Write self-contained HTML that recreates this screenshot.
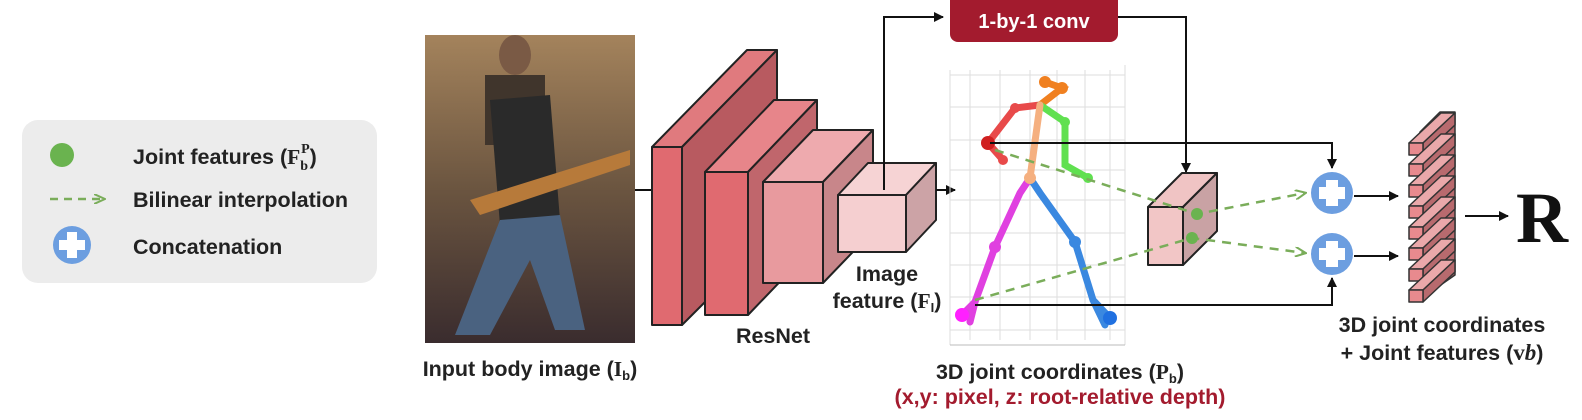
<!DOCTYPE html>
<html><head><meta charset="utf-8"><style>
body{margin:0;background:#fff;}
svg{display:block;font-family:"Liberation Sans",sans-serif;}
.t{font-size:21.5px;font-weight:bold;fill:#222;}
</style></head><body>
<svg width="1582" height="420" viewBox="0 0 1582 420">
<defs>
<marker id="a" markerWidth="10" markerHeight="10" refX="9" refY="5" orient="auto" markerUnits="userSpaceOnUse"><path d="M0,0 L10,5 L0,10 z" fill="#111"/></marker>
<marker id="g" markerWidth="12" markerHeight="10" refX="10" refY="5" orient="auto" markerUnits="userSpaceOnUse"><path d="M0,0 L11,5 L0,10" fill="none" stroke="#7aad5a" stroke-width="2"/></marker>
</defs>
<!-- legend -->
<rect x="22" y="120" width="355" height="163" rx="16" fill="#ececec"/>
<circle cx="62" cy="155" r="12" fill="#6ab34f"/>
<line x1="50" y1="199" x2="104" y2="199" stroke="#7aad5a" stroke-width="2.5" stroke-dasharray="8,6" marker-end="url(#g)"/>
<circle cx="72" cy="245" r="19" fill="#6c9ee0"/>
<rect x="67" y="232" width="10" height="26" fill="#fff"/><rect x="59" y="240" width="26" height="10" fill="#fff"/>
<text class="t" x="133" y="164">Joint features (<tspan font-family="Liberation Serif">F</tspan><tspan font-family="Liberation Serif" font-size="14" dy="6">b</tspan><tspan font-family="Liberation Serif" font-size="14" dy="-17" dx="-7">P</tspan><tspan dy="11">)</tspan></text>
<text class="t" x="133" y="207">Bilinear interpolation</text>
<text class="t" x="133" y="254">Concatenation</text>
<!-- photo -->
<defs><linearGradient id="ph" x1="0" y1="0" x2="0" y2="1"><stop offset="0" stop-color="#a4835c"/><stop offset="0.5" stop-color="#6b5540"/><stop offset="1" stop-color="#3a2c2e"/></linearGradient></defs>
<rect x="425" y="35" width="210" height="308" fill="url(#ph)"/>
<rect x="485" y="75" width="60" height="70" fill="#40352c"/>
<ellipse cx="515" cy="55" rx="16" ry="20" fill="#7a5a45"/>
<path d="M490,100 L550,95 L560,220 L500,225z" fill="#2a2a2a"/>
<path d="M500,220 L560,215 L585,330 L555,330 L530,260 L490,335 L455,335z" fill="#4a6280"/>
<path d="M470,200 L630,150 L630,165 L480,215z" fill="#b77a3a"/>
<line x1="635" y1="190" x2="652" y2="190" stroke="#111" stroke-width="2"/>
<!-- ResNet blocks -->
<g stroke="#222" stroke-width="2" stroke-linejoin="round">
<path d="M652,147 L747,50 L777,50 L682,147z" fill="#e07a7e"/><path d="M682,147 L777,50 L777,230 L682,325z" fill="#b85a60"/><rect x="652" y="147" width="30" height="178" fill="#e06a70"/>
<path d="M705,172 L774,100 L817,100 L748,172z" fill="#e7858a"/><path d="M748,172 L817,100 L817,243 L748,315z" fill="#c0666c"/><rect x="705" y="172" width="43" height="143" fill="#e06a70"/>
<path d="M763,182 L813,130 L873,130 L823,182z" fill="#eeaaae"/><path d="M823,182 L873,130 L873,231 L823,283z" fill="#c8868a"/><rect x="763" y="182" width="60" height="101" fill="#e89a9e"/>
<path d="M838,195 L868,163 L936,163 L906,195z" fill="#f6d3d4"/><path d="M906,195 L936,163 L936,220 L906,252z" fill="#cca3a6"/><rect x="838" y="195" width="68" height="57" fill="#f5cfd0"/>
</g>
<text class="t" x="773" y="343" text-anchor="middle">ResNet</text>
<text class="t" x="887" y="281" text-anchor="middle">Image</text>
<text class="t" x="887" y="308" text-anchor="middle">feature (<tspan font-family="Liberation Serif">F</tspan><tspan font-size="13" dy="4">I</tspan><tspan dy="-4">)</tspan></text>
<text class="t" x="530" y="376" text-anchor="middle">Input body image (<tspan font-family="Liberation Serif">I</tspan><tspan font-size="13" dy="4">b</tspan><tspan dy="-4">)</tspan></text>
<!-- arrows from image feature -->
<polyline points="884,190 884,17 943,17" fill="none" stroke="#111" stroke-width="2" marker-end="url(#a)"/>
<line x1="936" y1="190" x2="955" y2="190" stroke="#111" stroke-width="2" marker-end="url(#a)"/>
<!-- conv box -->
<path d="M950,0 H1118 V34 a8,8 0 0 1 -8,8 H958 a8,8 0 0 1 -8,-8z" fill="#a31b2e"/>
<text x="1034" y="28" text-anchor="middle" fill="#fff" font-size="20" font-weight="bold">1-by-1 conv</text>
<polyline points="1118,17 1186,17 1186,172" fill="none" stroke="#111" stroke-width="2" marker-end="url(#a)"/>
<!-- plot grid -->
<g stroke="#ddd" stroke-width="1">
<line x1="950" y1="70" x2="950" y2="345"/><line x1="970" y1="70" x2="970" y2="340"/><line x1="1000" y1="70" x2="1000" y2="340"/><line x1="1030" y1="70" x2="1030" y2="340"/><line x1="1057" y1="70" x2="1057" y2="340"/><line x1="1085" y1="70" x2="1085" y2="340"/><line x1="1110" y1="70" x2="1110" y2="340"/><line x1="1125" y1="65" x2="1125" y2="345"/>
<line x1="950" y1="75" x2="1125" y2="75"/><line x1="950" y1="107" x2="1125" y2="107"/><line x1="950" y1="140" x2="1125" y2="140"/><line x1="950" y1="170" x2="1125" y2="170"/><line x1="950" y1="200" x2="1125" y2="200"/><line x1="950" y1="233" x2="1125" y2="233"/><line x1="950" y1="265" x2="1125" y2="265"/><line x1="950" y1="297" x2="1125" y2="297"/><line x1="950" y1="330" x2="1125" y2="330"/>
<line x1="950" y1="345" x2="1125" y2="345" stroke="#bbb"/>
</g>
<!-- skeleton -->
<g stroke-width="7" stroke-linecap="round" fill="none">
<path d="M1045,82 L1062,88 L1040,105" stroke="#f08020"/>
<path d="M1040,105 L1015,108 L988,143 L1003,160" stroke="#e84a4a"/>
<path d="M1040,105 L1065,122 L1065,165 L1088,178" stroke="#60e050"/>
<path d="M1040,105 L1030,178" stroke="#f5b080"/>
<path d="M1030,178 L1020,193 L995,247 L975,302 L962,315 M975,302 L970,322" stroke="#e040e0"/>
<path d="M1030,178 L1040,193 L1075,242 L1093,300 L1110,318 M1093,300 L1105,325" stroke="#3a88e0"/>
</g>
<g><circle cx="1045" cy="82" r="6" fill="#f08020"/><circle cx="1062" cy="88" r="6" fill="#f08020"/><circle cx="1015" cy="108" r="5" fill="#e84a4a"/><circle cx="988" cy="143" r="7" fill="#d02020"/><circle cx="1003" cy="160" r="5" fill="#e84a4a"/><circle cx="1065" cy="122" r="5" fill="#60e050"/><circle cx="1088" cy="178" r="5" fill="#60e050"/><circle cx="1030" cy="178" r="6" fill="#f5b080"/><circle cx="995" cy="247" r="6" fill="#e040e0"/><circle cx="962" cy="315" r="7" fill="#ff20ff"/><circle cx="1075" cy="242" r="6" fill="#3a88e0"/><circle cx="1110" cy="318" r="7" fill="#2070e0"/></g>
<text class="t" x="1060" y="379" text-anchor="middle">3D joint coordinates (<tspan font-family="Liberation Serif">P</tspan><tspan font-size="13" dy="4">b</tspan><tspan dy="-4">)</tspan></text>
<text class="t" x="1060" y="404" text-anchor="middle" style="fill:#a31b2e">(x,y: pixel, z: root-relative depth)</text>
<!-- lines to plus -->
<polyline points="990,143 1332,143 1332,168" fill="none" stroke="#111" stroke-width="2" marker-end="url(#a)"/>
<polyline points="975,305 1332,305 1332,278" fill="none" stroke="#111" stroke-width="2" marker-end="url(#a)"/>
<!-- small cube -->
<g stroke="#222" stroke-width="2" stroke-linejoin="round">
<path d="M1148,207 L1182,173 L1217,173 L1183,207z" fill="#f0c4c4"/><path d="M1183,207 L1217,173 L1217,231 L1183,265z" fill="#c9a2a4"/><rect x="1148" y="207" width="35" height="58" fill="#f2c6c6"/>
</g>
<g stroke="#7aad5a" stroke-width="2.5" stroke-dasharray="9,7" fill="none">
<polyline points="995,150 1197,214 1305,193" marker-end="url(#g)"/>
<polyline points="975,300 1192,238 1305,253" marker-end="url(#g)"/>
</g>
<circle cx="1197" cy="214" r="6" fill="#6ab34f"/><circle cx="1192" cy="238" r="6" fill="#6ab34f"/>
<!-- plus circles -->
<g fill="#6c9ee0"><circle cx="1332" cy="193" r="21"/><circle cx="1332" cy="254" r="21"/></g>
<g fill="#fff"><rect x="1326" y="180" width="12" height="26"/><rect x="1319" y="187" width="26" height="12"/><rect x="1326" y="241" width="12" height="26"/><rect x="1319" y="248" width="26" height="12"/></g>
<line x1="1354" y1="196" x2="1398" y2="196" stroke="#111" stroke-width="2" marker-end="url(#a)"/>
<line x1="1354" y1="256" x2="1398" y2="256" stroke="#111" stroke-width="2" marker-end="url(#a)"/>
<!-- stack -->
<g stroke="#333" stroke-width="1.5" stroke-linejoin="round">
<path d="M1420,132 L1440,112 L1455,112 L1455,275 L1422,298 Z" fill="#b86a6e"/>
<g id="b"><path d="M1409,143 L1441,113 L1455,113 L1423,143z" fill="#eaa8aa"/><path d="M1423,143 L1455,113 L1455,125 L1423,155z" fill="#b86a6e"/><rect x="1409" y="143" width="14" height="12" fill="#e88a8e"/></g>
<use href="#b" y="21"/><use href="#b" y="42"/><use href="#b" y="63"/><use href="#b" y="84"/><use href="#b" y="105"/><use href="#b" y="126"/><use href="#b" y="147"/>
</g>
<line x1="1465" y1="216" x2="1508" y2="216" stroke="#111" stroke-width="2" marker-end="url(#a)"/>
<text x="1516" y="242" font-family="Liberation Serif" font-weight="bold" font-size="72" fill="#111">R</text>
<text class="t" x="1442" y="332" text-anchor="middle">3D joint coordinates</text>
<text class="t" x="1442" y="360" text-anchor="middle">+ Joint features (<tspan font-family="Liberation Serif" font-size="23">v</tspan><tspan font-family="Liberation Serif" font-style="italic" font-size="23">b</tspan>)</text>
</svg>
</body></html>
